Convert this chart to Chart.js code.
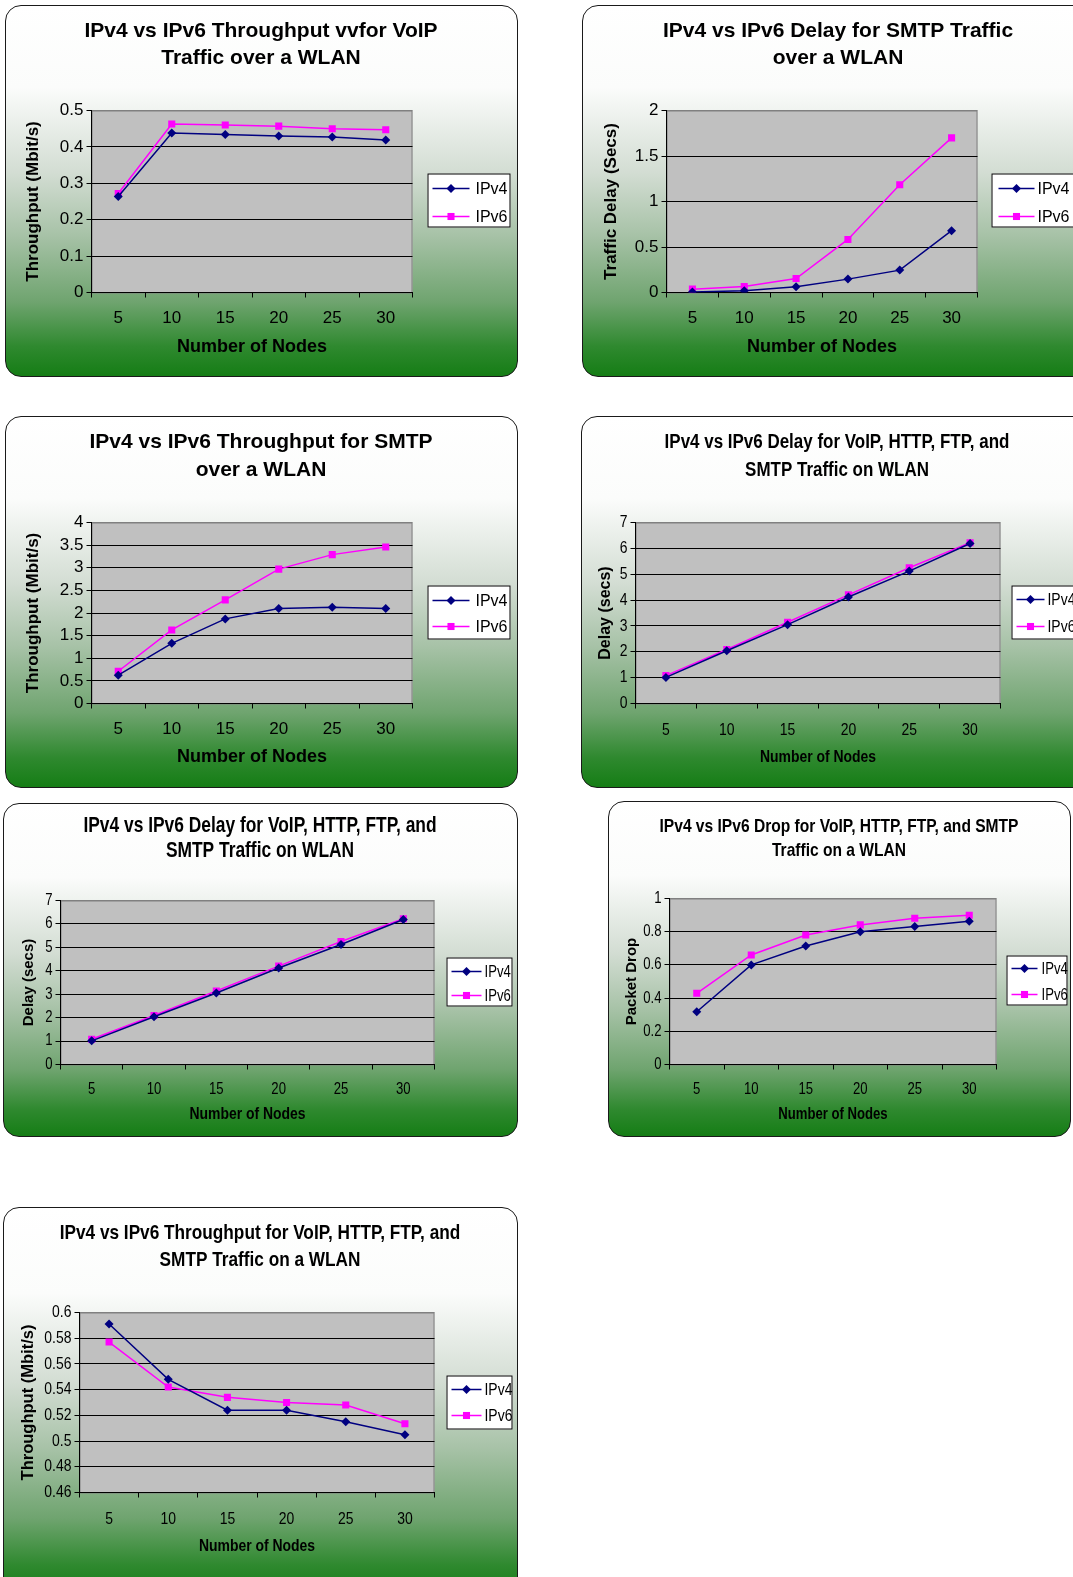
<!DOCTYPE html>
<html>
<head>
<meta charset="utf-8">
<script src="https://cdn.jsdelivr.net/npm/chart.js@4/dist/chart.umd.min.js"></script>
<style>
  body { margin: 0; width: 1073px; height: 1577px; background: #fff; overflow: hidden; position: relative; }
  .box {
    position: absolute; box-sizing: border-box; overflow: hidden;
    border: 1.5px solid #1a1a1a; border-radius: 16px;
    background: linear-gradient(to bottom, #ffffff 0%, #fbfcfb 22%, #d3ddd3 45%, #a7c2a7 62%, #6fa46f 80%, #2f892f 92%, #157d15 100%);
  }
  .box canvas { position: absolute; left: 0; top: 0; }
</style>
</head>
<body>
<script>
// categories
const nodes = ['5', '10', '15', '20', '25', '30'];

// 1. throughput VoIP
const voipThrV4 = [0.264, 0.438, 0.434, 0.430, 0.427, 0.419];
const voipThrV6 = [0.272, 0.463, 0.460, 0.457, 0.450, 0.447];
const voipThrTicks = [0, 0.1, 0.2, 0.3, 0.4, 0.5];

// 2. delay SMTP
const smtpDelayV4 = [0.005, 0.018, 0.062, 0.147, 0.246, 0.679];
const smtpDelayV6 = [0.037, 0.066, 0.154, 0.583, 1.185, 1.699];
const smtpDelayTicks = [0, 0.5, 1, 1.5, 2];

// 3. throughput SMTP
const smtpThrV4 = [0.625, 1.33, 1.87, 2.10, 2.125, 2.10];
const smtpThrV6 = [0.713, 1.625, 2.29, 2.97, 3.29, 3.46];
const smtpThrTicks = [0, 0.5, 1, 1.5, 2, 2.5, 3, 3.5, 4];

// 4 + 5. delay all traffic (same chart shown twice)
const allDelayV4 = [1.01, 2.04, 3.05, 4.12, 5.12, 6.19];
const allDelayV6 = [1.08, 2.09, 3.14, 4.20, 5.25, 6.22];
const allDelayTicks = [0, 1, 2, 3, 4, 5, 6, 7];

// 6. packet drop all traffic
const allDropV4 = [0.318, 0.600, 0.714, 0.800, 0.831, 0.863];
const allDropV6 = [0.429, 0.660, 0.780, 0.841, 0.881, 0.899];
const allDropTicks = [0, 0.2, 0.4, 0.6, 0.8, 1];

// 7. throughput all traffic
const allThrV4 = [0.591, 0.548, 0.524, 0.524, 0.515, 0.505];
const allThrV6 = [0.577, 0.542, 0.534, 0.530, 0.528, 0.5135];
const allThrTicks = [0.46, 0.48, 0.5, 0.52, 0.54, 0.56, 0.58, 0.6];

const F = "'Liberation Sans', Arial, sans-serif";
// no narrow face installed: text in this family gets squeezed in fillText below
const FN = "'Liberation Sans Narrow', 'Liberation Sans', Arial, sans-serif";
const NARROW = 0.82;
const BW = 1.5;

const charts = [
  { title: ['IPv4 vs IPv6 Throughput vvfor VoIP', 'Traffic over a WLAN'], yTitle: 'Throughput (Mbit/s)',
    v4: voipThrV4, v6: voipThrV6, ticks: voipThrTicks,
    box: [5, 5, 513, 372], plot: [92, 111, 413, 293], titleY: [32, 59], xTickY: 317, xTitleY: 348, yTitleX: 34,
    legend: { r: [428, 174, 83, 54], l1: 5, l2: 42, tx: 48, rows: [189, 217] },
    fam: F, yFam: F, tSize: 21, tickSize: 17, xtSize: 18, ytSize: 17, lgSize: 16 },
  { title: ['IPv4 vs IPv6 Delay for SMTP Traffic', 'over a WLAN'], yTitle: 'Traffic Delay (Secs)',
    v4: smtpDelayV4, v6: smtpDelayV6, ticks: smtpDelayTicks,
    box: [582, 5, 513, 372], plot: [667, 111, 978, 293], titleY: [32, 59], xTickY: 317, xTitleY: 348, yTitleX: 612,
    legend: { r: [992, 174, 90, 54], l1: 7, l2: 43, tx: 46, rows: [189, 217] },
    fam: F, yFam: F, tSize: 21, tickSize: 17, xtSize: 18, ytSize: 17, lgSize: 16 },
  { title: ['IPv4 vs IPv6 Throughput for SMTP', 'over a WLAN'], yTitle: 'Throughput (Mbit/s)',
    v4: smtpThrV4, v6: smtpThrV6, ticks: smtpThrTicks,
    box: [5, 416, 513, 372], plot: [92, 523, 413, 704], titleY: [443, 471], xTickY: 728, xTitleY: 758, yTitleX: 34,
    legend: { r: [428, 586, 83, 54], l1: 5, l2: 42, tx: 48, rows: [601, 627] },
    fam: F, yFam: F, tSize: 21, tickSize: 17, xtSize: 18, ytSize: 17, lgSize: 16 },
  { title: ['IPv4 vs IPv6 Delay for VoIP, HTTP, FTP, and', 'SMTP Traffic on WLAN'], yTitle: 'Delay (secs)',
    v4: allDelayV4, v6: allDelayV6, ticks: allDelayTicks,
    box: [581, 416, 513, 372], plot: [636, 523, 1001, 704], titleY: [443, 471], xTickY: 729, xTitleY: 758, yTitleX: 606,
    legend: { r: [1012, 586, 80, 54], l1: 5, l2: 33, tx: 36, rows: [600, 627] },
    fam: FN, yFam: F, tSize: 20.7, tickSize: 17, xtSize: 17, ytSize: 16, lgSize: 17 },
  { title: ['IPv4 vs IPv6 Delay for VoIP, HTTP, FTP, and', 'SMTP Traffic on WLAN'], yTitle: 'Delay (secs)',
    v4: allDelayV4, v6: allDelayV6, ticks: allDelayTicks,
    box: [3, 803, 515, 334], plot: [61, 901, 435, 1065], titleY: [827, 852], xTickY: 1088, xTitleY: 1115, yTitleX: 29,
    legend: { r: [447, 958, 66, 49], l1: 5, l2: 35, tx: 38, rows: [972, 996] },
    fam: FN, yFam: F, tSize: 21.2, tickSize: 16, xtSize: 17, ytSize: 15, lgSize: 16 },
  { title: ['IPv4 vs IPv6 Drop for VoIP, HTTP, FTP, and SMTP', 'Traffic on a WLAN'], yTitle: 'Packet Drop',
    v4: allDropV4, v6: allDropV6, ticks: allDropTicks,
    box: [608, 801, 463, 336], plot: [670, 899, 997, 1065], titleY: [827, 851], xTickY: 1088, xTitleY: 1115, yTitleX: 632,
    legend: { r: [1007, 956, 61, 50], l1: 5, l2: 31, tx: 35, rows: [969, 995] },
    fam: FN, yFam: F, tSize: 19, tickSize: 16, xtSize: 16, ytSize: 15, lgSize: 16 },
  { title: ['IPv4 vs IPv6 Throughput for VoIP, HTTP, FTP, and', 'SMTP Traffic on a WLAN'], yTitle: 'Throughput (Mbit/s)',
    v4: allThrV4, v6: allThrV6, ticks: allThrTicks,
    box: [3, 1207, 515, 390], plot: [80, 1313, 435, 1493], titleY: [1234, 1261], xTickY: 1518, xTitleY: 1547, yTitleX: 29,
    legend: { r: [447, 1376, 66, 54], l1: 5, l2: 35, tx: 38, rows: [1390, 1416] },
    fam: FN, yFam: F, tSize: 21, tickSize: 17, xtSize: 17, ytSize: 16.5, lgSize: 17 }
];

const plotBg = {
  id: 'plotBg',
  beforeDraw(chart) {
    const { ctx, chartArea: a } = chart;
    ctx.save();
    ctx.fillStyle = '#c0c0c0';
    ctx.fillRect(a.left, a.top, a.right - a.left, a.bottom - a.top);
    ctx.strokeStyle = '#808080';
    ctx.lineWidth = 1;
    ctx.strokeRect(a.left + 0.5, a.top + 0.5, a.right - a.left - 1, a.bottom - a.top);
    ctx.restore();
  }
};

const boxLegend = {
  id: 'boxLegend',
  afterDraw(chart) {
    const s = chart.options.plugins.boxLegend;
    const { ctx } = chart;
    const L = s.legend;
    const x = L.r[0] - s.ox, y = L.r[1] - s.oy;
    ctx.save();
    ctx.fillStyle = '#fff';
    ctx.fillRect(x, y, L.r[2], L.r[3]);
    ctx.strokeStyle = '#000';
    ctx.lineWidth = 1;
    ctx.strokeRect(x + 0.5, y + 0.5, L.r[2] - 1, L.r[3] - 1);
    chart.data.datasets.forEach((d, i) => {
      const ry = L.rows[i] - s.oy;
      ctx.strokeStyle = d.borderColor;
      ctx.lineWidth = d.borderWidth;
      ctx.beginPath();
      ctx.moveTo(x + L.l1, ry);
      ctx.lineTo(x + L.l2, ry);
      ctx.stroke();
      ctx.fillStyle = d.backgroundColor;
      Chart.helpers.drawPoint(ctx, { pointStyle: d.pointStyle, radius: d.pointRadius, rotation: 0, borderWidth: 0 }, x + (L.l1 + L.l2) / 2, ry);
      ctx.fillStyle = '#000';
      ctx.font = s.lgSize + 'px ' + s.fam;
      ctx.textBaseline = 'middle';
      ctx.textAlign = 'left';
      ctx.fillText(d.label, x + L.tx, ry + 1);
    });
    ctx.restore();
  }
};

function squeezeNarrow(ctx) {
  const fill = ctx.fillText.bind(ctx);
  ctx.fillText = function (t, x, y, mw) {
    if (!this.font.includes('Narrow')) return fill(t, x, y, mw);
    this.save();
    this.translate(x, y);
    this.scale(NARROW, 1);
    fill(t, 0, 0);
    this.restore();
  };
}

function makeChart(s) {
  const div = document.createElement('div');
  div.className = 'box';
  div.style.left = s.box[0] + 'px';
  div.style.top = s.box[1] + 'px';
  div.style.width = s.box[2] + 'px';
  div.style.height = s.box[3] + 'px';
  document.body.appendChild(div);

  const cw = s.box[2] - 2 * BW, ch = s.box[3] - 2 * BW;
  s.ox = s.box[0] + BW;
  s.oy = s.box[1] + BW;
  const cv = document.createElement('canvas');
  cv.width = cw;
  cv.height = ch;
  div.appendChild(cv);
  squeezeNarrow(cv.getContext('2d'));

  const padL = 4, padR = 4;
  const tGap = s.titleY[1] - s.titleY[0];
  const tTop = s.titleY[0] - s.oy - tGap / 2;
  const tBottom = (s.plot[1] - s.oy) - tTop - 2 * tGap;
  const tickLen = 5;
  const xLab = s.xTickY - 0.49 * s.tickSize;
  const xtLH = s.xtSize * 1.2, ytLH = s.ytSize * 1.2;
  const top = s.ticks[s.ticks.length - 1];

  new Chart(cv, {
    type: 'line',
    data: {
      labels: nodes,
      datasets: [
        { label: 'IPv4', data: s.v4, borderColor: '#000080', backgroundColor: '#000080', borderWidth: 1.5,
          pointStyle: 'rectRot', pointRadius: 4.5, pointBorderWidth: 0, tension: 0 },
        { label: 'IPv6', data: s.v6, borderColor: '#ff00ff', backgroundColor: '#ff00ff', borderWidth: 1.5,
          pointStyle: 'rect', pointRadius: 5, pointBorderWidth: 0, tension: 0 }
      ]
    },
    options: {
      responsive: false,
      animation: false,
      devicePixelRatio: 1,
      layout: { padding: { left: padL, right: padR, top: 0, bottom: 0 } },
      plugins: {
        legend: { display: false },
        tooltip: { enabled: false },
        title: {
          display: true, text: s.title, color: '#000',
          font: { family: s.fam, size: s.tSize, weight: 'bold', lineHeight: tGap / s.tSize },
          padding: { top: tTop, bottom: tBottom }
        },
        boxLegend: s
      },
      scales: {
        x: {
          type: 'category', offset: true,
          grid: { display: true, drawOnChartArea: false, drawTicks: true, tickLength: tickLen, offset: true, color: '#000' },
          border: { display: true, color: '#000', width: 1 },
          ticks: { color: '#000', font: { family: s.fam, size: s.tickSize }, padding: xLab - s.plot[3] - tickLen, maxRotation: 0, autoSkip: false },
          title: { display: true, text: 'Number of Nodes', color: '#000',
            font: { family: s.fam, size: s.xtSize, weight: 'bold', lineHeight: 1.2 },
            padding: { top: 0, bottom: s.oy + ch - s.xTitleY - xtLH / 2 } },
          afterFit: sc => { sc.height = s.oy + ch - s.plot[3]; }
        },
        y: {
          type: 'linear', position: 'left',
          min: s.ticks[0], max: top,
          afterBuildTicks: sc => { sc.ticks = s.ticks.map(v => ({ value: v })); },
          grid: { drawTicks: true, tickLength: tickLen, tickColor: '#000', lineWidth: 1,
            color: c => (c.tick && Math.abs(c.tick.value - top) < 1e-9) ? '#808080' : '#000' },
          border: { display: true, color: '#000', width: 1 },
          ticks: { color: '#000', font: { family: s.fam, size: s.tickSize }, padding: 3, autoSkip: false,
            callback: v => String(Math.round(v * 100) / 100) },
          title: { display: true, text: s.yTitle, color: '#000',
            font: { family: s.yFam, size: s.ytSize, weight: 'bold', lineHeight: 1.2 },
            padding: { top: s.yTitleX - s.ox - padL - ytLH / 2, bottom: 0 } },
          afterFit: sc => { sc.width = s.plot[0] - s.ox - padL; }
        },
        r: {
          type: 'linear', position: 'right', display: true,
          grid: { display: false }, border: { display: false }, ticks: { display: false },
          afterFit: sc => { sc.width = (s.ox + cw - padR) - s.plot[2]; }
        }
      }
    },
    plugins: [plotBg, boxLegend]
  });
}

charts.forEach(makeChart);
</script>
</body>
</html>
